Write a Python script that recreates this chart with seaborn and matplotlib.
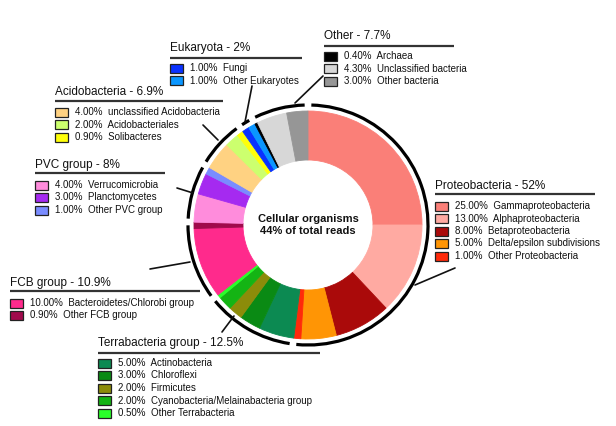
import numpy as np
import matplotlib
matplotlib.use("Agg")
import matplotlib.pyplot as plt
import seaborn as sns
from matplotlib.patches import Arc, Rectangle

# data: clockwise from 12 o'clock
groups = ["Proteobacteria", "Terrabacteria group", "FCB group", "PVC group",
          "Acidobacteria", "Eukaryota", "Other"]
names = [
    ["Gammaproteobacteria", "Alphaproteobacteria", "Betaproteobacteria",
     "Delta/epsilon subdivisions", "Other Proteobacteria"],
    ["Actinobacteria", "Chloroflexi", "Firmicutes",
     "Cyanobacteria/Melainabacteria group", "Other Terrabacteria"],
    ["Bacteroidetes/Chlorobi group", "Other FCB group"],
    ["Verrucomicrobia", "Planctomycetes", "Other PVC group"],
    ["unclassified Acidobacteria", "Acidobacteriales", "Solibacteres"],
    ["Fungi", "Other Eukaryotes"],
    ["Archaea", "Unclassified bacteria", "Other bacteria"],
]
values = [
    [25.0, 13.0, 8.0, 5.0, 1.0],
    [5.0, 3.0, 2.0, 2.0, 0.5],
    [10.0, 0.9],
    [4.0, 3.0, 1.0],
    [4.0, 2.0, 0.9],
    [1.0, 1.0],
    [0.4, 4.3, 3.0],
]
colors = [
    ["#fa7f78", "#ffaaa2", "#aa0a0a", "#ff9505", "#ff2a0a"],
    ["#0c8a52", "#0a8a14", "#8c8c0a", "#14b414", "#2aff2a"],
    ["#ff2a8c", "#a00a4c"],
    ["#ff8cdc", "#a52af0", "#7a8cff"],
    ["#ffd282", "#ccff6e", "#ffff0a"],
    ["#0a32ff", "#0a96ff"],
    ["#000000", "#d7d7d7", "#969696"],
]
center_text = "Cellular organisms\n44% of total reads"

# layout in pixel coords (y from top): header x, header y, underline y, underline end, leader
layout = {
    "Proteobacteria": (435, 186, 194, 595, ((455, 268), (415, 285))),
    "Terrabacteria group": (98, 343, 353, 320, ((222, 332), (234, 316))),
    "FCB group": (10, 283, 291, 200, ((150, 269), (190, 262))),
    "PVC group": (35, 165, 173, 165, ((177, 188), (193, 193))),
    "Acidobacteria": (55, 92, 101, 223, ((203, 125), (218, 140))),
    "Eukaryota": (170, 48, 58, 302, ((252, 86), (245, 122))),
    "Other": (324, 36, 46, 454, ((323, 76), (295, 103))),
}

W, H = 616, 426
sns.set_theme(style="white")
plt.rcParams["font.family"] = ["Liberation Sans", "DejaVu Sans"]

fig = plt.figure(figsize=(W / 100, H / 100), dpi=100)
ax = fig.add_axes([0, 0, 1, 1])

def Y(y):
    return H - y

cx, cy = 308, Y(225)
r_out, r_in, r_ring = 114, 65, 120

flat_vals = [v for vs in values for v in vs]
flat_cols = [c for cs in colors for c in cs]
wedges, _ = ax.pie(flat_vals, colors=flat_cols, startangle=90, counterclock=False,
                   center=(cx, cy), radius=r_out, normalize=True,
                   wedgeprops=dict(width=r_out - r_in, linewidth=0.6))
for w in wedges:
    w.set_edgecolor(w.get_facecolor())
ax.set_xlim(0, W)
ax.set_ylim(0, H)
ax.set_aspect("equal")
ax.axis("off")

ax.text(cx, cy, center_text, ha="center", va="center", fontsize=8,
        fontweight="bold", color="#111111", linespacing=1.3)

# outer group arcs
total = sum(flat_vals)
start = 0.0
gap = 1.6
for g, vs in zip(groups, values):
    a0 = start / total * 360
    a1 = (start + sum(vs)) / total * 360
    start += sum(vs)
    t1 = 90 - a1 + gap
    t2 = 90 - a0 - gap
    ax.add_patch(Arc((cx, cy), 2 * r_ring, 2 * r_ring, theta1=t1, theta2=t2,
                     color="black", lw=2.3))

# group labels
for g, vs, ns, cs in zip(groups, values, names, colors):
    x0, hy, ly, x1, leader = layout[g]
    tot = round(sum(vs), 1)
    ax.text(x0, Y(hy), f"{g} - {tot:g}%", fontsize=8.5, ha="left",
            va="center", color="#111111")
    ax.plot([x0, x1], [Y(ly), Y(ly)], color="#333333", lw=1.6,
            solid_capstyle="butt")
    (lx0, ly0), (lx1, ly1) = leader
    ax.plot([lx0, lx1], [Y(ly0), Y(ly1)], color="#111111", lw=1.2)
    for i, (v, n, c) in enumerate(zip(vs, ns, cs)):
        ry = hy + 20 + i * 12.5
        ax.add_patch(Rectangle((x0, Y(ry) - 4.5), 13, 9, facecolor=c,
                               edgecolor="#222222", lw=0.9))
        ax.text(x0 + 20, Y(ry), f"{v:.2f}%  {n}", fontsize=7, ha="left",
                va="center", color="#111111")

fig.savefig("out.png", dpi=100, facecolor="white")
